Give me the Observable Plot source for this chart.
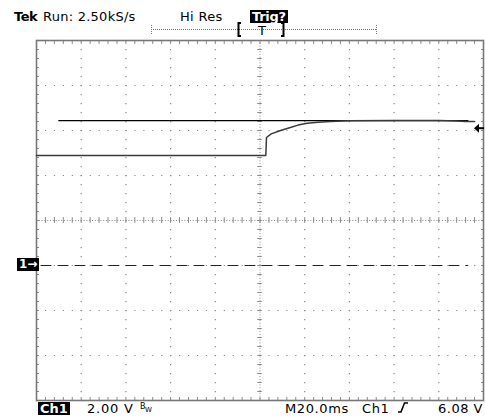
<!DOCTYPE html>
<html><head><meta charset="utf-8">
<script src="https://cdn.jsdelivr.net/npm/d3@7"></script>
<script src="https://cdn.jsdelivr.net/npm/@observablehq/plot@0.6"></script>
<style>
html,body{margin:0;padding:0;background:#fff;}
#wrap{position:relative;width:485px;height:417px;overflow:hidden;font-family:"DejaVu Sans",sans-serif;font-size:13px;color:#000;}
#wrap svg{display:block;}
.t{position:absolute;white-space:pre;line-height:13px;}
.inv{background:#000;color:#fff;font-weight:bold;padding:0 2px;}
</style></head>
<body><div id="wrap"></div>
<script>
// Trace (time in ms relative to trigger, volts)
const timeMs = [-100, 2.6, 2.9, 5, 9.2, 13.6, 17, 21.1, 26, 31.5, 40, 60, 80, 88, 92, 96];
const volts  = [4.89, 4.89, 5.69, 5.85, 6.0, 6.13, 6.24, 6.32, 6.37, 6.40, 6.43, 6.44, 6.44, 6.42, 6.40, 6.40];
// Reference level line
const refTime = [-90, 93];
const refVolts = [6.44, 6.44];
// Ground marker (dashed) and trigger level
const groundTime = [-98, 93];
const groundVolts = [0, 0];
const triggerLevel = 6.08;
// Graticule (20 ms/div, 2 V/div)
const xMajor = [-80, -60, -40, -20, 20, 40, 60, 80];
const yMajor = [-4, -2, 0, 4, 6, 8];
const xCenter = 0, yCenter = 2;
const xMinor = d3.range(-100, 100.01, 4);
const yMinor = d3.range(-6, 10.01, 0.4);

const trace = timeMs.map((t, i) => ({t, v: volts[i]}));
const ref = refTime.map((t, i) => ({t, v: refVolts[i]}));
const gnd = groundTime.map((t, i) => ({t, v: groundVolts[i]}));

const G = "#8a8a8a";
const chart = Plot.plot({
  width: 485, height: 417,
  marginTop: 40, marginLeft: 36, marginRight: 2, marginBottom: 17,
  x: {domain: [-100, 100], axis: null},
  y: {domain: [-6, 10], axis: null},
  style: {background: "#fff"},
  marks: [
    Plot.ruleX(xMajor, {stroke: G, strokeWidth: 1.2, strokeDasharray: "1.2,7.8"}),
    Plot.ruleY(yMajor, {stroke: G, strokeWidth: 1.2, strokeDasharray: "1.2,7.74"}),
    Plot.ruleX([xCenter], {stroke: G, strokeWidth: 1, strokeDasharray: "1,1.8"}),
    Plot.ruleY([yCenter], {stroke: G, strokeWidth: 1, strokeDasharray: "1,1.8"}),
    Plot.ruleY(yMinor, {x1: xCenter - 1, x2: xCenter + 1, stroke: G, strokeWidth: 1}),
    Plot.ruleX(xMinor, {y1: yCenter - 0.13, y2: yCenter + 0.13, stroke: G, strokeWidth: 1}),
    Plot.axisY({anchor: "left", ticks: yMinor, tickSize: 3, dx: 3, tickFormat: () => "", label: null, stroke: G}),
    Plot.axisY({anchor: "right", ticks: yMinor, tickSize: 3, dx: -3, tickFormat: () => "", label: null, stroke: G}),
    Plot.axisX({anchor: "top", ticks: xMinor, tickSize: 3, dy: 3, tickFormat: () => "", label: null, stroke: G}),
    Plot.axisX({anchor: "bottom", ticks: xMinor, tickSize: 3, dy: -3, tickFormat: () => "", label: null, stroke: G}),
    Plot.frame({stroke: "#777", strokeWidth: 1.6}),
    Plot.line(gnd, {x: "t", y: "v", stroke: "#222", strokeWidth: 1.1, strokeDasharray: "10,7"}),
    Plot.line(ref, {x: "t", y: "v", stroke: "#000", strokeWidth: 1.4}),
    Plot.line(trace, {x: "t", y: "v", stroke: "#3a3a3a", strokeWidth: 1.5})
  ]
});
const wrap = document.getElementById("wrap");
wrap.appendChild(chart);
const ys = chart.scale("y");
const xs = chart.scale("x");
const gy = ys.apply(0);
const ty = ys.apply(triggerLevel);
const rx = xs.apply(100);

function addText(txt, left, top, cls, extra) {
  const d = document.createElement("div");
  d.className = "t" + (cls ? " " + cls : "");
  d.textContent = txt;
  if (left !== null) d.style.left = left + "px";
  d.style.top = top + "px";
  if (extra) Object.assign(d.style, extra);
  wrap.appendChild(d);
  return d;
}
// Header
addText("Tek", 14, 10, null, {fontWeight: "bold", letterSpacing: "-0.5px"});
addText("Run: 2.50kS/s", 43, 10, null, {letterSpacing: "0.25px"});
addText("Hi Res", 180, 10, null, {letterSpacing: "0.3px"});
addText("Trig?", 250, 10, "inv", {letterSpacing: "-0.3px"});
// Footer
addText("Ch1", 38, 402, "inv");
addText("2.00 V", 87, 402, null, {letterSpacing: "0.8px"});
addText("M20.0ms", 285, 402, null, {letterSpacing: "0.6px"});
addText("Ch1", 362, 402, null, {letterSpacing: "0.6px"});
addText("6.08 V", null, 402, null, {right: "2px", letterSpacing: "0.5px"});
// Ground marker
addText("1→", 17, gy - 7, "inv", {fontSize: "12px"});

// Decorations: record bar, BW, trigger-slope glyph, trigger-level arrow
const ns = "http://www.w3.org/2000/svg";
const ov = document.createElementNS(ns, "svg");
ov.setAttribute("width", 485); ov.setAttribute("height", 417);
Object.assign(ov.style, {position: "absolute", left: "0px", top: "0px", pointerEvents: "none"});
ov.innerHTML = `
  <line x1="151" y1="29.5" x2="376" y2="29.5" stroke="#777" stroke-width="1" stroke-dasharray="1,1"/>
  <line x1="151.5" y1="25" x2="151.5" y2="34" stroke="#777" stroke-width="1" stroke-dasharray="1,1"/>
  <line x1="376.5" y1="25" x2="376.5" y2="34" stroke="#777" stroke-width="1" stroke-dasharray="1,1"/>
  <path d="M241,23 H238.5 V36 H241" fill="none" stroke="#000" stroke-width="2"/>
  <path d="M281,23 H283.5 V36 H281" fill="none" stroke="#000" stroke-width="2"/>
  <text x="262" y="35" text-anchor="middle" font-family="DejaVu Sans" font-size="13">T</text>
  <text x="140" y="409" font-family="DejaVu Sans" font-size="8">B</text>
  <text x="145" y="412" font-family="DejaVu Sans" font-size="7">W</text>
  <path d="M398,412 H401 L404.5,403 H408" fill="none" stroke="#000" stroke-width="1.6"/>
  <path d="M${rx - 9},${ty} L${rx - 4},${ty - 4.5} L${rx - 4},${ty + 4.5} Z" fill="#000"/>
  <line x1="${rx - 5}" y1="${ty}" x2="${rx + 1}" y2="${ty}" stroke="#000" stroke-width="2"/>
`;
wrap.appendChild(ov);
</script>
</body></html>
